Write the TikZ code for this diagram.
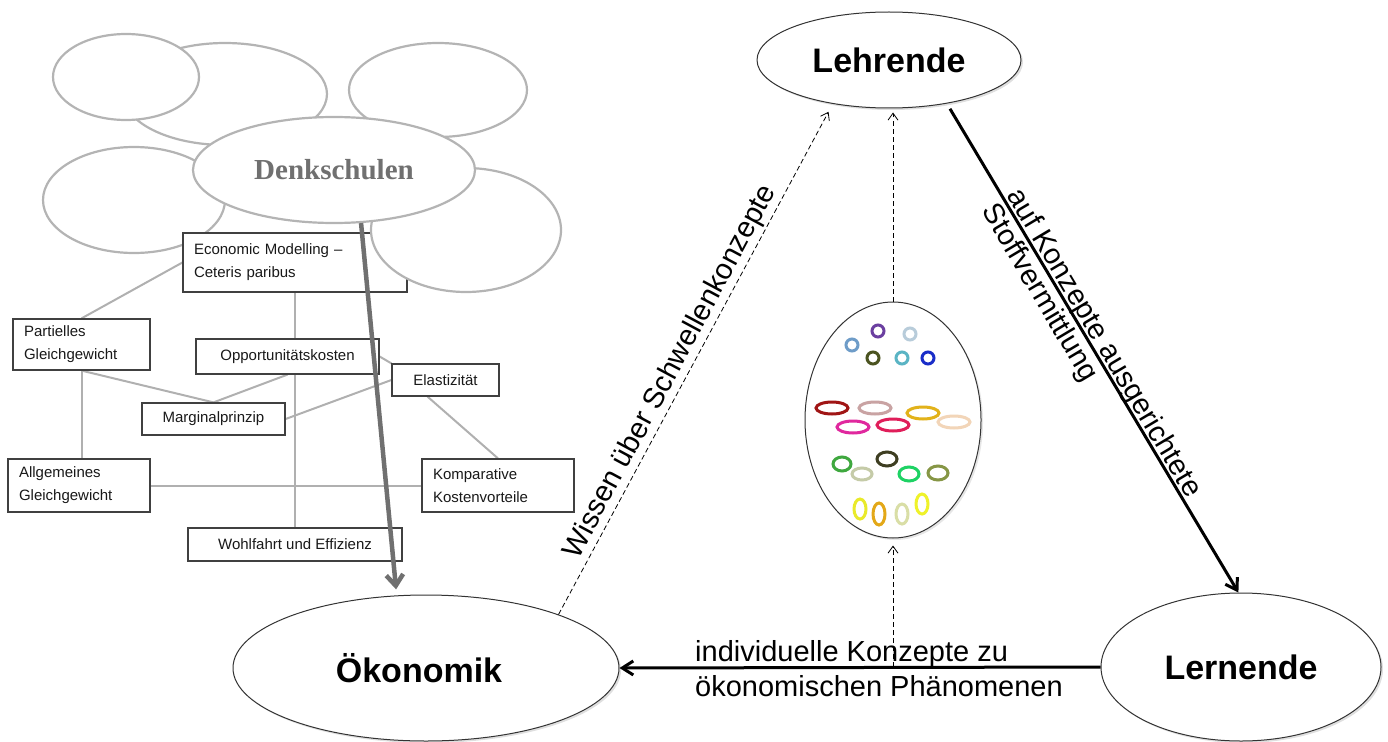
\documentclass[tikz,border=0pt]{standalone}
\usepackage{fontspec}
\setmainfont{Liberation Sans}
\newfontfamily\serifbold{Liberation Serif}
\usetikzlibrary{shapes.geometric,arrows.meta,shadows,calc}
\pgfdeclarelayer{background}
\pgfsetlayers{background,main}
\definecolor{decogray}{HTML}{B4B4B4}
\definecolor{linkgray}{HTML}{B0B0B0}
\definecolor{denkgray}{HTML}{707070}
\begin{document}
\begin{tikzpicture}[x=1pt,y=-1pt,
  deco/.style={ellipse, draw=decogray, line width=2.2pt, fill=white, inner sep=0pt},
  conc/.style={draw=black!75, line width=1.2pt, fill=white, inner sep=0pt,
    font=\fontsize{15}{23}\selectfont, text=black!90},
  conctwo/.style={conc, align=left, inner xsep=11pt},
  link/.style={draw=linkgray, line width=2pt},
  actor/.style={ellipse, draw=black!80, line width=1pt, fill=white, inner sep=0pt,
    font=\fontsize{34}{40}\selectfont\bfseries,
    drop shadow={opacity=0.25, shadow xshift=2pt, shadow yshift=-2pt}},
  dasharrow/.style={draw, dash pattern=on 5pt off 3pt, line width=0.8pt,
    -{Straight Barb[length=7pt,width=10pt]}},
  thickarrow/.style={draw, line width=3pt, -{Straight Barb[length=11pt,width=14pt]}},
  denkarrow/.style={draw=denkgray, line width=4.5pt, -{Straight Barb[length=11pt,width=17pt]}},
  lbl/.style={font=\fontsize{29}{35}\selectfont, inner sep=0pt},
  ring/.style={line width=3pt}
]
\useasboundingbox (0,0) rectangle (1388,741);

% ---- concept boxes ----
\node[conctwo, minimum width=224pt, minimum height=59pt, text width=202pt] (econ) at (295,262.5) {Economic Modelling –\\Ceteris paribus};
\node[conctwo, minimum width=137pt, minimum height=51pt, text width=115pt] (part) at (81.5,344.5) {Partielles\\Gleichgewicht};
\node[conc, minimum width=183pt, minimum height=35pt] (opp) at (287.5,356.5) {Opportunitätskosten};
\node[conc, minimum width=107pt, minimum height=32pt] (elast) at (445.5,380) {Elastizität};
\node[conc, minimum width=143pt, minimum height=32pt] (marg) at (213.5,419) {Marginalprinzip};
\node[conctwo, minimum width=142pt, minimum height=53pt, text width=120pt] (allg) at (79,485.5) {Allgemeines\\Gleichgewicht};
\node[conctwo, minimum width=152pt, minimum height=53pt, text width=130pt] (komp) at (498,485.5) {Komparative\\Kostenvorteile};
\node[conc, minimum width=214pt, minimum height=33pt] (wohl) at (295,544.5) {Wohlfahrt und Effizienz};

\begin{pgfonlayer}{background}
\node[deco, minimum width=204pt, minimum height=102pt] (d2) at (225,94) {};
\node[deco, minimum width=146pt, minimum height=86pt] (d1) at (126,77) {};
\node[deco, minimum width=178pt, minimum height=94pt] (d3) at (438,90) {};
\node[deco, minimum width=182pt, minimum height=106pt] (d4) at (134,200) {};
\draw[link] (econ.west) -- (part.north);
\draw[link] (econ.south) -- (wohl.north);
\draw[link] (part.south) -- (part.south |- allg.north);
\draw[link] (part.south) -- (marg.north);
\draw[link] (opp.south) -- (marg.north);
\draw[link] (opp.east) -- (elast.north west);
\draw[link] (elast.west) -- (marg.east);
\draw[link] ([xshift=-18pt]elast.south) -- (komp.north);
\draw[link] (allg.east) -- (komp.west);
\end{pgfonlayer}

\node[deco, minimum width=190pt, minimum height=124pt] (d5) at (466,230) {};
\node[deco, minimum width=282pt, minimum height=106pt, text=denkgray,
  font=\serifbold\fontsize{29}{34}\selectfont\bfseries] (denk) at (334,170) {Denkschulen};

% ---- main triangle ----
\node[actor, minimum width=264pt, minimum height=96pt] (lehr) at (889,60) {Lehrende};
\node[actor, minimum width=386pt, minimum height=146pt] (oek) at (426,668) {\hspace*{-14pt}Ökonomik};
\node[actor, minimum width=280pt, minimum height=148pt] (lern) at (1241,667) {Lernende};
\node[ellipse, draw=black!80, line width=1pt, fill=white, inner sep=0pt,
  minimum width=176pt, minimum height=236pt,
  drop shadow={opacity=0.2, shadow xshift=2pt, shadow yshift=-2pt}] (oval) at (893,420) {};

% rings inside the oval
\begin{scope}[ring]
\draw[color={rgb,255:red,107;green,63;blue,160}]  (878,331) circle [radius=6];
\draw[color={rgb,255:red,184;green,204;blue,218}] (910,334) circle [radius=6];
\draw[color={rgb,255:red,110;green,156;blue,200}] (852,345) circle [radius=6];
\draw[color={rgb,255:red,75;green,83;blue,32}]    (873,358) circle [radius=6];
\draw[color={rgb,255:red,90;green,180;blue,196}]  (902,358) circle [radius=6];
\draw[color={rgb,255:red,26;green,45;blue,200}]   (928,358) circle [radius=6];
\draw[color={rgb,255:red,160;green,21;blue,21}]   (832,408) ellipse [x radius=16, y radius=6];
\draw[color={rgb,255:red,201;green,163;blue,163}] (875,408) ellipse [x radius=16, y radius=6];
\draw[color={rgb,255:red,226;green,178;blue,26}]  (923,413) ellipse [x radius=16, y radius=6];
\draw[color={rgb,255:red,242;green,213;blue,184}] (954,422) ellipse [x radius=16, y radius=6];
\draw[color={rgb,255:red,224;green,40;blue,158}]  (853,427) ellipse [x radius=16, y radius=6];
\draw[color={rgb,255:red,224;green,30;blue,90}]   (893,425) ellipse [x radius=16, y radius=6];
\draw[color={rgb,255:red,63;green,168;blue,63}]   (842,464) ellipse [x radius=9, y radius=7];
\draw[color={rgb,255:red,197;green,203;blue,168}] (862,474) ellipse [x radius=10, y radius=6];
\draw[color={rgb,255:red,62;green,62;blue,34}]    (887,459) ellipse [x radius=10, y radius=7];
\draw[color={rgb,255:red,30;green,210;blue,100}]  (909,474) ellipse [x radius=10, y radius=7];
\draw[color={rgb,255:red,134;green,150;blue,69}]  (938,473) ellipse [x radius=10, y radius=7];
\draw[color={rgb,255:red,233;green,234;blue,42}]  (860,509) ellipse [x radius=6, y radius=10];
\draw[color={rgb,255:red,227;green,168;blue,24}]  (879,514) ellipse [x radius=6, y radius=11];
\draw[color={rgb,255:red,217;green,222;blue,166}] (902,514) ellipse [x radius=6, y radius=10];
\draw[color={rgb,255:red,239;green,242;blue,42}]  (922,504) ellipse [x radius=6, y radius=10];
\end{scope}

% ---- connectors ----
\draw[denkarrow, shorten >=6pt] (denk.-63) -- (oek.112);

\draw[dasharrow, shorten >=9pt] (oek.22) --
  node[lbl, pos=0.46, sloped, above, inner sep=2pt] (wissen) {Wissen über Schwellenkonzepte} (lehr.218);
\draw[dasharrow, shorten >=4pt] (oval.north) -- (oval.north |- lehr.south);

\draw[thickarrow, shorten <=6pt] (lehr.-37) --
  node[lbl, pos=0.19, sloped, anchor=south west, inner xsep=0pt, inner ysep=0pt, outer ysep=-2pt] (auf) {auf Konzepte ausgerichtete}
  node[lbl, pos=0.19, sloped, anchor=north west, inner xsep=0pt, inner ysep=3pt] (stoff) {Stoffvermittlung}
  (lern.92);

\draw[thickarrow] (lern.west) -- (oek.east);
\coordinate (hx) at (oval.south |- lern.west);
\draw[dasharrow, shorten >=7pt] (hx) -- (oval.south);
\node[lbl, anchor=west, align=left] (indiv) at (695,669)
  {individuelle Konzepte zu\\ökonomischen Phänomenen};
\end{tikzpicture}
\end{document}
